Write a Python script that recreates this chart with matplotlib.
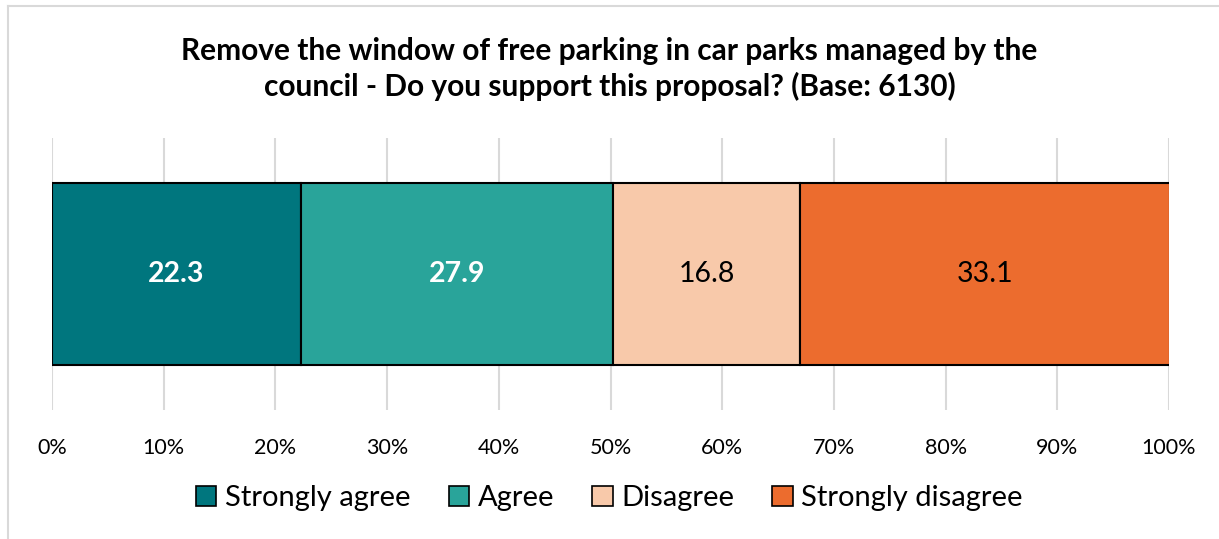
import matplotlib.pyplot as plt
from matplotlib.lines import Line2D
from matplotlib.patches import Patch

plt.rcParams['font.family'] = ['Lato', 'DejaVu Sans']

categories = ['Strongly agree', 'Agree', 'Disagree', 'Strongly disagree']
values = [22.3, 27.9, 16.8, 33.1]
colors = ['#00767E', '#29A49A', '#F8C9AA', '#EC6C2E']
label_colors = ['white', 'white', 'black', 'black']
label_weights = ['bold', 'bold', 'normal', 'normal']
ticks = [0, 10, 20, 30, 40, 50, 60, 70, 80, 90, 100]
tick_labels = [f'{t}%' for t in ticks]
title = ('Remove the window of free parking in car parks managed by the\n'
         'council - Do you support this proposal? (Base: 6130)')

fig = plt.figure(figsize=(12.19, 5.39), dpi=100)
ax = fig.add_axes([0.0427, 0.2393, 0.9163, 0.5047])

left = 0
for cat, v, c, lc, lw in zip(categories, values, colors, label_colors, label_weights):
    ax.barh(0, v, left=left, height=0.67, color=c, edgecolor='black', linewidth=1.5, zorder=3)
    ax.text(left + v / 2, 0, f'{v:.1f}', ha='center', va='center',
            color=lc, fontsize=20.5, fontweight=lw, zorder=4)
    left += v

ax.set_xlim(0, 100)
ax.set_ylim(-0.5, 0.5)
ax.set_xticks(ticks)
ax.set_xticklabels(tick_labels, fontsize=15.5)
ax.set_yticks([])
ax.tick_params(axis='x', length=0, pad=20)
ax.grid(axis='x', color='#D9D9D9', linewidth=1.5, zorder=0)
for s in ax.spines.values():
    s.set_visible(False)

fig.text(0.5, 0.872, title, ha='center', va='center', fontsize=21.5,
         fontweight='bold', linespacing=1.32)

handles = [Patch(facecolor=c, edgecolor='black', linewidth=1.2) for c in colors]
fig.legend(handles, categories, loc='center', bbox_to_anchor=(0.5, 0.076), ncol=4,
           frameon=False, fontsize=21, handlelength=0.7, handleheight=0.7,
           handletextpad=0.3, columnspacing=1.3)

# chart area border (top and left visible)
fig.add_artist(Line2D([0.0066, 1], [0.9889, 0.9889], color='#D9D9D9', linewidth=1.5))
fig.add_artist(Line2D([0.0066, 0.0066], [0, 0.9889], color='#D9D9D9', linewidth=1.5))

fig.savefig('out.png', dpi=100)
